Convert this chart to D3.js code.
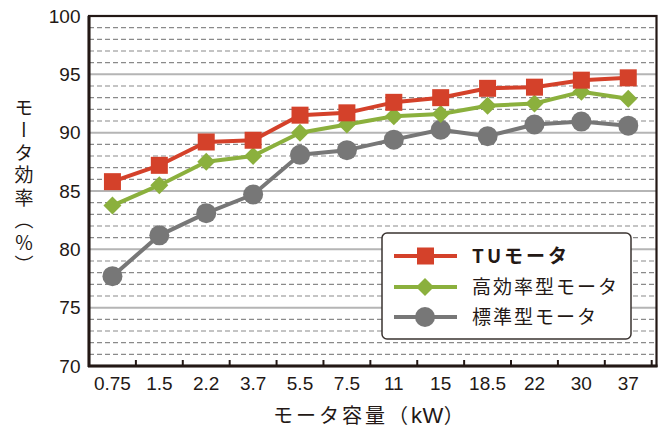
<!DOCTYPE html>
<html><head><meta charset="utf-8">
<script src="https://cdn.jsdelivr.net/npm/d3@7"></script>
<style>
html,body{margin:0;padding:0;background:#fff;}
svg{display:block;}
</style></head>
<body>
<svg id="chart" width="667" height="428"></svg>
<script>
const categories = ["0.75","1.5","2.2","3.7","5.5","7.5","11","15","18.5","22","30","37"];
const tuValues = [85.8,87.2,89.2,89.35,91.5,91.7,92.6,93.0,93.8,93.9,94.5,94.7];
const highEffValues = [83.75,85.5,87.5,88.0,90.0,90.7,91.4,91.6,92.3,92.5,93.5,92.9];
const standardValues = [77.7,81.2,83.1,84.7,88.1,88.5,89.4,90.25,89.7,90.7,90.95,90.6];
const yTicks = [70,75,80,85,90,95,100];
const seriesNames = ["TUモータ","高効率型モータ","標準型モータ"];
const xTitleParts = ["モータ容量（","kW","）"];
const yTitle = "モータ効率（％）";

const colors = {tu:"#d4412a", he:"#8bb03d", st:"#777777"};
const svg = d3.select("#chart");
const L = 89, T = 16, R = 656.5, B = 366;
const x = d3.scaleBand().domain(categories).range([L, 651.7]).padding(0);
const y = d3.scaleLinear().domain([70,100]).range([B, T]);
const cx = c => x(c) + x.bandwidth()/2;

// grid
const minor = d3.range(71,100).filter(v => v % 5 !== 0);
svg.append("g").selectAll("line").data(minor).join("line")
  .attr("x1", L).attr("x2", R).attr("y1", d=>y(d)).attr("y2", d=>y(d))
  .attr("stroke","#8a8a8a").attr("stroke-width",1.2).attr("stroke-dasharray","5,3");
svg.append("g").selectAll("line").data(yTicks.filter(v=>v>70 && v<100)).join("line")
  .attr("x1", L).attr("x2", R).attr("y1", d=>y(d)).attr("y2", d=>y(d))
  .attr("stroke","#b5b5b5").attr("stroke-width",2);

// frame
svg.append("rect").attr("x",L).attr("y",T).attr("width",R-L).attr("height",B-T)
  .attr("fill","none").attr("stroke","#231815").attr("stroke-width",2.2);
svg.append("line").attr("x1",L).attr("x2",L).attr("y1",T).attr("y2",B+1)
  .attr("stroke","#231815").attr("stroke-width",3);
svg.append("line").attr("x1",L-1).attr("x2",R+1).attr("y1",B).attr("y2",B)
  .attr("stroke","#231815").attr("stroke-width",3);

// x ticks (inside, at band boundaries)
svg.append("g").selectAll("line").data(categories).join("line")
  .attr("x1", d=>x(d)+x.bandwidth()).attr("x2", d=>x(d)+x.bandwidth())
  .attr("y1", B).attr("y2", B-6).attr("stroke","#231815").attr("stroke-width",2);

// tick labels
svg.append("g").selectAll("text").data(categories).join("text")
  .attr("x", d=>cx(d)).attr("y", 390)
  .attr("text-anchor","middle").attr("font-family","'Liberation Sans', Arial, sans-serif")
  .attr("font-size",19).attr("fill","#231815").text(d=>d);
svg.append("g").selectAll("text").data(yTicks).join("text")
  .attr("x", 80.5).attr("y", d=>y(d)+6.8)
  .attr("text-anchor","end").attr("font-family","'Liberation Sans', Arial, sans-serif")
  .attr("font-size",19).attr("fill","#231815").text(d=>d);

// axis titles
const xt = svg.append("text").attr("x",273).attr("y",423)
  .attr("font-family","'Noto Sans CJK JP', sans-serif").attr("font-size",20)
  .attr("letter-spacing",3).attr("fill","#231815");
xt.append("tspan").text(xTitleParts[0]);
xt.append("tspan").attr("font-family","'Liberation Sans', Arial, sans-serif").attr("font-size",22).attr("letter-spacing",0.5).text(xTitleParts[1]);
xt.append("tspan").text(xTitleParts[2]);
svg.append("text").attr("x",24).attr("y",98)
  .attr("font-family","'Noto Sans CJK JP', sans-serif").attr("font-size",19)
  .attr("letter-spacing",3.5).attr("fill","#231815")
  .style("writing-mode","vertical-rl").text(yTitle);

// series
const line = d3.line().x((d,i)=>cx(categories[i])).y(d=>y(d));
function drawSeries(vals, color, shape){
  svg.append("path").datum(vals).attr("d", line).attr("fill","none")
    .attr("stroke", color).attr("stroke-width",4).attr("stroke-linejoin","round");
  const g = svg.append("g");
  if (shape === "circle") {
    g.selectAll("circle").data(vals).join("circle")
      .attr("cx",(d,i)=>cx(categories[i])).attr("cy",d=>y(d)).attr("r",10).attr("fill",color);
  } else if (shape === "diamond") {
    g.selectAll("path").data(vals).join("path")
      .attr("transform",(d,i)=>`translate(${cx(categories[i])},${y(d)})`)
      .attr("d","M0,-9L9,0L0,9L-9,0Z").attr("fill",color);
  } else {
    g.selectAll("rect").data(vals).join("rect")
      .attr("x",(d,i)=>cx(categories[i])-8.5).attr("y",d=>y(d)-8.5)
      .attr("width",17).attr("height",17).attr("fill",color);
  }
}
drawSeries(standardValues, colors.st, "circle");
drawSeries(highEffValues, colors.he, "diamond");
drawSeries(tuValues, colors.tu, "square");

// legend
const lg = svg.append("g");
lg.append("rect").attr("x",382).attr("y",233).attr("width",249).attr("height",106)
  .attr("rx",5).attr("fill","#fff").attr("stroke","#3a3330").attr("stroke-width",1.5);
const legendItems = [
  {name:seriesNames[0], color:colors.tu, shape:"square", bold:true},
  {name:seriesNames[1], color:colors.he, shape:"diamond", bold:false},
  {name:seriesNames[2], color:colors.st, shape:"circle", bold:false}
];
const rowY = [256, 287, 317];
legendItems.forEach((it,i)=>{
  const yy = rowY[i];
  lg.append("line").attr("x1",394).attr("x2",457).attr("y1",yy).attr("y2",yy)
    .attr("stroke",it.color).attr("stroke-width",4);
  if (it.shape==="square") lg.append("rect").attr("x",417).attr("y",yy-8.5).attr("width",17).attr("height",17).attr("fill",it.color);
  if (it.shape==="diamond") lg.append("path").attr("transform",`translate(425,${yy})`).attr("d","M0,-9L9,0L0,9L-9,0Z").attr("fill",it.color);
  if (it.shape==="circle") lg.append("circle").attr("cx",425).attr("cy",yy).attr("r",10).attr("fill",it.color);
  lg.append("text").attr("x",472).attr("y",yy+7)
    .attr("font-family","'Noto Sans CJK JP', sans-serif").attr("font-size",19)
    .attr("font-weight", it.bold?"bold":"normal")
    .attr("letter-spacing", it.bold?3:2).attr("fill","#231815").text(it.name);
});
</script>
</body></html>
